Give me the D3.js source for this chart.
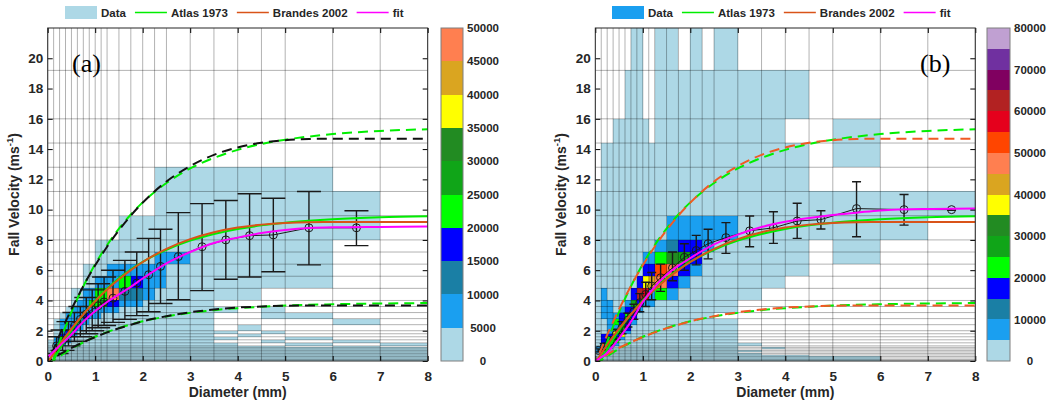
<!DOCTYPE html>
<html>
<head>
<meta charset="utf-8">
<script src="https://cdn.jsdelivr.net/npm/d3@7"></script>
<style>
  body { margin: 0; background: #fff; }
  svg text { font-family: "Liberation Sans", Arial, sans-serif; font-weight: bold; fill: #262626; }
</style>
</head>
<body>
<svg id="chart" width="1050" height="405"></svg>
<script>
// ---- bin edges of the disdrometer classes ----
const D_EDGES = [0, 0.125, 0.25, 0.375, 0.5, 0.625, 0.75, 0.875, 1, 1.125, 1.25, 1.5, 1.75, 2, 2.25, 2.5, 3, 3.5, 4, 4.5, 5, 6, 7, 8];
const V_EDGES = [0, 0.1, 0.2, 0.3, 0.4, 0.5, 0.6, 0.7, 0.8, 0.9, 1.0, 1.2, 1.4, 1.6, 1.8, 2.0, 2.4, 2.8, 3.2, 3.6, 4.0,
  4.8, 5.6, 6.4, 7.2, 8.0, 9.6, 11.2, 12.8, 14.4, 16.0, 19.2, 22.4];

// colour of each 5000-count level
const LEVEL_COLORS = ["#add8e6", "#1a9ff0", "#1a7fa5", "#0000ff", "#00ff00", "#10a518", "#228b22", "#ffff00",
  "#daa520", "#ff7f50", "#ff4500", "#e5001c", "#b22222", "#800060", "#7030a0", "#c0a0d2"];

// histogram (a): one entry per diameter class, runs of [first velocity class, last velocity class, level]
const HIST_A = [
  [[0, 11, 0]],
  [[0, 16, 0], [9, 12, 1]],
  [[0, 17, 0], [10, 16, 1], [12, 13, 3]],
  [[0, 18, 0], [11, 17, 1], [13, 14, 3]],
  [[0, 20, 0], [13, 18, 1], [15, 15, 3]],
  [[0, 20, 0], [15, 19, 1], [16, 16, 2]],
  [[0, 22, 0], [16, 20, 1], [17, 17, 3]],
  [[0, 22, 0], [17, 20, 1], [19, 19, 4]],
  [[0, 24, 0], [17, 21, 1], [19, 20, 4]],
  [[0, 24, 0], [18, 21, 1], [19, 19, 5], [20, 20, 4]],
  [[0, 24, 0], [18, 22, 1], [19, 19, 3], [20, 20, 9]],
  [[0, 25, 0], [19, 22, 1], [20, 20, 2], [21, 21, 4]],
  [[0, 25, 0], [19, 22, 1], [20, 20, 2], [21, 21, 3]],
  [[0, 25, 0], [20, 22, 1]],
  [[0, 27, 0], [21, 23, 1]],
  [[0, 27, 0], [23, 23, 1]],
  [[0, 27, 0]],
  [[20, 27, 0], [18, 18, 0], [0, 10, 0], [12, 12, 0], [14, 14, 0]],
  [[20, 27, 0], [0, 9, 0], [13, 13, 0], [15, 15, 0]],
  [[21, 27, 0], [17, 18, 0], [0, 9, 0], [11, 11, 0], [14, 14, 0]],
  [[21, 27, 0], [17, 17, 0], [0, 8, 0], [10, 10, 0], [12, 12, 0]],
  [[25, 26, 0], [16, 16, 0], [0, 9, 0], [11, 11, 0]],
  [[0, 8, 0], [10, 10, 0]]
];

// histogram (b)
const HIST_B = [
  [[0, 26, 0], [5, 9, 1]],
  [[0, 28, 0], [6, 13, 1], [11, 13, 3], [17, 20, 1]],
  [[0, 28, 0], [8, 16, 1], [10, 11, 4], [12, 13, 3], [17, 19, 1]],
  [[0, 29, 0], [10, 17, 1], [11, 12, 4], [13, 13, 3], [14, 14, 7], [16, 16, 4]],
  [[0, 29, 0], [12, 18, 1], [13, 13, 7], [14, 15, 5], [16, 17, 3]],
  [[0, 30, 0], [14, 19, 1], [15, 16, 3], [17, 17, 4], [18, 18, 3]],
  [[0, 31, 0], [16, 20, 1], [17, 18, 3], [19, 19, 5], [20, 20, 3]],
  [[0, 31, 0], [18, 21, 1], [19, 19, 3], [20, 20, 12], [21, 21, 3]],
  [[0, 29, 0], [19, 23, 1], [20, 20, 11], [21, 21, 7], [22, 22, 3]],
  [[0, 28, 0], [19, 23, 1], [21, 21, 8], [22, 22, 3]],
  [[0, 31, 0], [20, 24, 1], [20, 20, 4], [21, 21, 9], [22, 22, 10], [23, 23, 4]],
  [[0, 31, 0], [20, 25, 1], [21, 21, 3], [22, 22, 9], [23, 23, 6], [24, 24, 2]],
  [[0, 30, 0], [21, 25, 1], [22, 22, 3], [23, 23, 5], [24, 24, 3]],
  [[0, 31, 0], [22, 25, 1], [23, 23, 3], [24, 24, 3]],
  [[0, 30, 0], [24, 25, 1]],
  [[0, 16, 0], [18, 31, 0], [25, 25, 1]],
  [[20, 30, 0], [0, 4, 0], [6, 6, 0], [10, 10, 0]],
  [[21, 30, 0], [0, 3, 0], [8, 8, 0]],
  [[22, 28, 0], [30, 30, 0], [0, 3, 0]],
  [[25, 26, 0], [0, 2, 0]],
  [[23, 26, 0], [28, 29, 0], [0, 2, 0]],
  [[25, 26, 0]],
  [[26, 26, 0]]
];

// ---- relations ----
const CURVE_D = [0, 0.25, 0.5, 0.75, 1, 1.25, 1.5, 1.75, 2, 2.5, 3, 3.5, 4, 4.5, 5, 5.5, 6, 7, 8];
const ATLAS = [-0.65, 0.78, 2.02, 3.08, 4.0, 4.78, 5.46, 6.05, 6.55, 7.35, 7.95, 8.39, 8.72, 8.96, 9.14, 9.27, 9.37, 9.50, 9.57];
const BRANDES = [-0.10, 1.07, 2.14, 3.09, 3.95, 4.72, 5.40, 6.00, 6.54, 7.41, 8.05, 8.51, 8.82, 9.01, 9.12, 9.17, 9.18, 9.18, 9.18];
const ATLAS_HI = [-1.04, 1.25, 3.23, 4.93, 6.40, 7.65, 8.74, 9.68, 10.48, 11.76, 12.72, 13.42, 13.95, 14.34, 14.62, 14.83, 14.99, 15.2, 15.31];
const BRANDES_HI = [-0.16, 1.72, 3.42, 4.95, 6.32, 7.55, 8.64, 9.61, 10.46, 11.86, 12.88, 13.62, 14.11, 14.42, 14.59, 14.67, 14.69, 14.69, 14.69];
const ATLAS_LO = [-0.26, 0.31, 0.81, 1.23, 1.60, 1.91, 2.18, 2.42, 2.62, 2.94, 3.18, 3.36, 3.49, 3.58, 3.66, 3.71, 3.75, 3.80, 3.83];
const BRANDES_LO = [-0.04, 0.43, 0.86, 1.24, 1.58, 1.89, 2.16, 2.40, 2.62, 2.96, 3.22, 3.40, 3.53, 3.60, 3.65, 3.67, 3.67, 3.67, 3.67];
const FIT_A = [0.25, 1.0, 1.75, 2.6, 3.3, 3.9, 4.4, 4.9, 5.45, 6.45, 7.2, 7.8, 8.15, 8.45, 8.65, 8.78, 8.83, 8.86, 8.88];
const FIT_B = [0.0, 0.55, 1.5, 2.6, 3.9, 4.9, 5.7, 6.3, 6.8, 7.7, 8.35, 8.85, 9.2, 9.45, 9.65, 9.8, 9.95, 10.05, 10.08];

// ---- class means and spread ----
const CENTERS_A = [0.187, 0.312, 0.437, 0.562, 0.687, 0.812, 0.937, 1.062, 1.187, 1.375, 1.625, 1.875, 2.125, 2.375, 2.75, 3.25, 3.75, 4.25, 4.75, 5.5, 6.5];
const MEAN_A = [1.0, 1.35, 1.8, 2.3, 2.75, 3.1, 3.4, 3.65, 3.9, 4.15, 4.6, 5.15, 5.7, 6.25, 6.9, 7.55, 8.0, 8.28, 8.33, 8.8, 8.8];
const LOW_A = [0.5, 0.7, 1.0, 1.3, 1.6, 1.8, 2.0, 2.2, 2.35, 2.55, 2.75, 3.0, 3.25, 3.8, 4.05, 4.65, 5.4, 5.55, 5.9, 6.35, 7.62];
const HIGH_A = [1.6, 2.05, 2.6, 3.2, 3.6, 4.2, 4.7, 5.1, 5.55, 6.0, 6.65, 7.2, 8.1, 8.7, 9.8, 10.4, 10.6, 11.05, 10.75, 11.2, 9.93];

const CENTERS_B = [0.062, 0.187, 0.312, 0.437, 0.562, 0.687, 0.812, 0.937, 1.062, 1.187, 1.375, 1.625, 1.875, 2.125, 2.375, 2.75, 3.25, 3.75, 4.25, 4.75, 5.5, 6.5, 7.5];
const MEAN_B = [0.7, 0.95, 1.3, 1.75, 2.2, 2.7, 3.25, 3.85, 4.4, 4.95, 5.5, 6.15, 6.85, 7.3, 7.75, 8.15, 8.6, 8.8, 9.25, 9.34, 10.07, 10.0, 10.0];
const LOW_B = [0.6, 0.75, 1.0, 1.4, 1.8, 2.25, 2.75, 3.25, 3.6, 4.05, 4.6, 5.3, 6.0, 6.35, 6.75, 7.11, 7.55, 7.77, 8.1, 8.72, 8.21, 8.98, 9.95];
const HIGH_B = [0.8, 1.15, 1.6, 2.1, 2.6, 3.15, 3.75, 4.45, 5.2, 5.85, 6.4, 7.2, 7.75, 8.3, 8.7, 9.14, 9.58, 9.86, 10.42, 9.93, 11.84, 11.0, 10.05];

const X_TICKS = [0, 1, 2, 3, 4, 5, 6, 7, 8];
const Y_TICKS = [0, 2, 4, 6, 8, 10, 12, 14, 16, 18, 20];
const LEGEND_LABELS = ["Data", "Atlas 1973", "Brandes 2002", "fit"];

const PLOT_TOP = 28, PLOT_BOTTOM = 361;
const svg = d3.select("#chart");

function drawPanel(p) {
  const x = d3.scaleLinear().domain([0, 8]).range([p.left, p.right]);
  const y = d3.scaleLinear().domain([0, 22]).range([PLOT_BOTTOM, PLOT_TOP]);
  const g = svg.append("g");

  svg.append("clipPath").attr("id", "clip" + p.id)
    .append("rect")
    .attr("x", p.left).attr("y", PLOT_TOP)
    .attr("width", p.right - p.left).attr("height", PLOT_BOTTOM - PLOT_TOP);
  const plot = g.append("g").attr("clip-path", `url(#clip${p.id})`);

  // histogram cells
  const cells = [];
  p.hist.forEach((runs, i) => runs.forEach(r => cells.push({ i, j0: r[0], j1: r[1], lev: r[2] })));
  plot.append("g").attr("shape-rendering", "crispEdges")
    .selectAll("rect").data(cells).join("rect")
    .attr("x", d => x(D_EDGES[d.i]))
    .attr("width", d => x(D_EDGES[d.i + 1]) - x(D_EDGES[d.i]))
    .attr("y", d => y(V_EDGES[d.j1 + 1]))
    .attr("height", d => y(V_EDGES[d.j0]) - y(V_EDGES[d.j1 + 1]))
    .attr("fill", d => LEVEL_COLORS[d.lev]);

  // class-edge grid
  const grid = plot.append("g").attr("stroke", "#000").attr("stroke-opacity", 0.3).attr("stroke-width", 1);
  grid.selectAll("line.v").data(D_EDGES).join("line").attr("class", "v")
    .attr("x1", d => x(d)).attr("x2", d => x(d)).attr("y1", PLOT_TOP).attr("y2", PLOT_BOTTOM);
  grid.selectAll("line.h").data(V_EDGES.filter(v => v <= 22)).join("line").attr("class", "h")
    .attr("x1", p.left).attr("x2", p.right).attr("y1", d => y(d)).attr("y2", d => y(d));

  // error bars with means
  const eb = plot.append("g").attr("stroke", "#1a1a1a").attr("fill", "none").attr("stroke-width", 1.4);
  const pts = p.centers.map((c, k) => ({ d: c, m: p.mean[k], lo: p.low[k], hi: p.high[k] }));
  eb.append("path")
    .attr("d", d3.line().x(d => x(d.d)).y(d => y(d.m))(pts))
    .attr("stroke-width", 1);
  eb.selectAll("line.bar").data(pts).join("line").attr("class", "bar")
    .attr("x1", d => x(d.d)).attr("x2", d => x(d.d)).attr("y1", d => y(d.lo)).attr("y2", d => y(d.hi));
  eb.selectAll("line.capHi").data(pts).join("line").attr("class", "capHi")
    .attr("x1", d => x(d.d) - p.cap).attr("x2", d => x(d.d) + p.cap).attr("y1", d => y(d.hi)).attr("y2", d => y(d.hi));
  eb.selectAll("line.capLo").data(pts).join("line").attr("class", "capLo")
    .attr("x1", d => x(d.d) - p.cap).attr("x2", d => x(d.d) + p.cap).attr("y1", d => y(d.lo)).attr("y2", d => y(d.lo));
  eb.selectAll("circle").data(pts).join("circle")
    .attr("cx", d => x(d.d)).attr("cy", d => y(d.m)).attr("r", 4).attr("stroke-width", 1);

  // relations
  const line = d3.line().x((d, k) => x(CURVE_D[k])).y(d => y(d)).curve(d3.curveMonotoneX);
  const curves = [
    { v: ATLAS_HI, c: "#00ee00", dash: "10,6" },
    { v: ATLAS_LO, c: "#00ee00", dash: "10,6" },
    { v: BRANDES_HI, c: p.bandColor, dash: "10,6", off: 5 },
    { v: BRANDES_LO, c: p.bandColor, dash: "10,6", off: 5 },
    { v: ATLAS, c: "#00ee00" },
    { v: BRANDES, c: "#d95319" },
    { v: p.fit, c: "#ff00ff" }
  ];
  plot.selectAll("path.curve").data(curves).join("path").attr("class", "curve")
    .attr("d", d => line(d.v))
    .attr("fill", "none")
    .attr("stroke", d => d.c)
    .attr("stroke-width", 2)
    .attr("stroke-dasharray", d => d.dash || null)
    .attr("stroke-dashoffset", d => d.off || 0);

  // axes
  const fontAttrs = sel => sel.attr("font-family", "Liberation Sans, Arial, sans-serif").attr("font-size", 13.5).attr("font-weight", "bold");
  g.append("g").attr("transform", `translate(0,${PLOT_BOTTOM})`)
    .call(d3.axisBottom(x).tickValues(X_TICKS).tickSize(-5).tickPadding(10).tickFormat(d3.format("d")))
    .call(fontAttrs).call(a => a.select(".domain").remove());
  g.append("g").attr("transform", `translate(0,${PLOT_TOP})`)
    .call(d3.axisTop(x).tickValues(X_TICKS).tickSize(-5).tickFormat(""))
    .call(a => a.select(".domain").remove());
  g.append("g").attr("transform", `translate(${p.left},0)`)
    .call(d3.axisLeft(y).tickValues(Y_TICKS).tickSize(-5).tickPadding(4.5).tickFormat(d3.format("d")))
    .call(fontAttrs).call(a => a.select(".domain").remove());
  g.append("g").attr("transform", `translate(${p.right},0)`)
    .call(d3.axisRight(y).tickValues(Y_TICKS).tickSize(-5).tickFormat(""))
    .call(a => a.select(".domain").remove());
  g.selectAll(".tick text").attr("fill", "#262626");

  g.append("rect")
    .attr("x", p.left).attr("y", PLOT_TOP)
    .attr("width", p.right - p.left).attr("height", PLOT_BOTTOM - PLOT_TOP)
    .attr("fill", "none").attr("stroke", "#262626").attr("stroke-width", 1);

  // axis titles
  g.append("text")
    .attr("x", (p.left + p.right) / 2).attr("y", 397)
    .attr("text-anchor", "middle").style("font-size", "14px")
    .text("Diameter (mm)");
  const yt = g.append("text")
    .attr("transform", `translate(${p.left - 29},${(PLOT_TOP + PLOT_BOTTOM) / 2}) rotate(-90)`)
    .attr("text-anchor", "middle").style("font-size", "14px");
  yt.append("tspan").text("Fall Velocity (ms");
  yt.append("tspan").attr("dy", -6).style("font-size", "9.5px").text("-1");
  yt.append("tspan").attr("dy", 6).text(")");

  // panel tag
  g.append("text")
    .attr("x", p.tagX).attr("y", 72)
    .style("font-family", "'Liberation Serif', 'Times New Roman', serif")
    .style("font-weight", "normal").style("font-size", "26px").style("fill", "#000")
    .text(p.tag);

  // colour bar
  const cb = d3.scaleLinear().domain([0, p.cbMax]).range([PLOT_BOTTOM, PLOT_TOP]);
  const levels = d3.range(p.cbMax / 5000);
  g.append("g").attr("shape-rendering", "crispEdges")
    .selectAll("rect").data(levels).join("rect")
    .attr("x", p.cbX).attr("width", p.cbW)
    .attr("y", k => cb((k + 1) * 5000))
    .attr("height", k => cb(k * 5000) - cb((k + 1) * 5000))
    .attr("fill", k => LEVEL_COLORS[k]);
  g.append("rect")
    .attr("x", p.cbX).attr("y", PLOT_TOP).attr("width", p.cbW).attr("height", PLOT_BOTTOM - PLOT_TOP)
    .attr("fill", "none").attr("stroke", "#7f7f7f").attr("stroke-width", 1);
  g.append("g").selectAll("text").data(d3.range(0, p.cbMax + 1, p.cbStep)).join("text")
    .attr("x", p.cbX + p.cbW + 20).attr("y", d => cb(d)).attr("dy", "0.36em")
    .attr("text-anchor", "middle").style("font-size", "11.5px")
    .text(d => d);

  // legend
  const leg = g.append("g");
  let cx = p.legX;
  const legColors = [p.dataColor, "#00ee00", "#d95319", "#ff00ff"];
  LEGEND_LABELS.forEach((lab, k) => {
    if (k === 0) {
      leg.append("rect").attr("x", cx).attr("y", 6).attr("width", 32).attr("height", 13).attr("fill", legColors[k]);
    } else {
      leg.append("line").attr("x1", cx).attr("x2", cx + 32).attr("y1", 12.5).attr("y2", 12.5)
        .attr("stroke", legColors[k]).attr("stroke-width", 1.5);
    }
    const t = leg.append("text").attr("x", cx + 36).attr("y", 17).style("font-size", "11.5px").text(lab);
    cx += 36 + t.node().getComputedTextLength() + 9;
  });
}

drawPanel({
  id: "a", left: 47.7, right: 427.7, hist: HIST_A,
  centers: CENTERS_A, mean: MEAN_A, low: LOW_A, high: HIGH_A, cap: 12,
  fit: FIT_A, bandColor: "#111111", dataColor: LEVEL_COLORS[0],
  cbX: 441, cbW: 22, cbMax: 50000, cbStep: 5000, legX: 65, tag: "(a)", tagX: 72
});
drawPanel({
  id: "b", left: 595.3, right: 975.3, hist: HIST_B,
  centers: CENTERS_B, mean: MEAN_B, low: LOW_B, high: HIGH_B, cap: 4.5,
  fit: FIT_B, bandColor: "#f05a24", dataColor: LEVEL_COLORS[1],
  cbX: 987, cbW: 23, cbMax: 80000, cbStep: 10000, legX: 612, tag: "(b)", tagX: 920
});
</script>
</body>
</html>
